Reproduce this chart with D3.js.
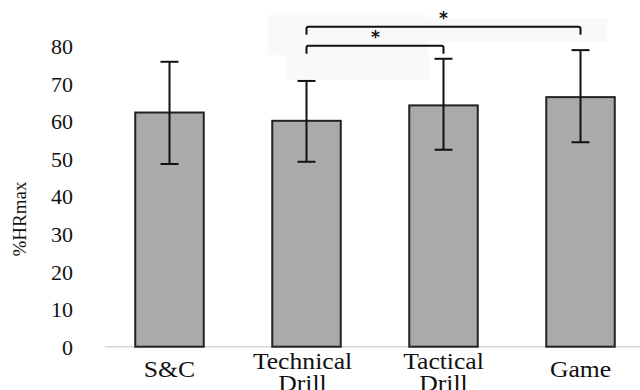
<!DOCTYPE html>
<html><head><meta charset="utf-8">
<script src="https://cdn.jsdelivr.net/npm/d3@7"></script>
<style>body{margin:0;background:#fff}svg{display:block}</style>
</head><body>
<script>
const categories = ["S&C", "Technical Drill", "Tactical Drill", "Game"];
const meanValues = [62.3, 60.1, 64.2, 66.4];
const sdUpper = [75.8, 70.7, 76.6, 78.9];
const sdLower = [48.6, 49.2, 52.4, 54.4];
const yTicks = [0, 10, 20, 30, 40, 50, 60, 70, 80];
const comparisons = [["Technical Drill", "Tactical Drill"], ["Technical Drill", "Game"]];
const yTitle = "%HRmax";

const SERIF = "'Liberation Serif', 'Times New Roman', serif";
const W = 640, H = 390;
const svg = d3.select("body").append("svg").attr("width", W).attr("height", H);

const x = d3.scaleBand().domain(categories).range([101, 649]).paddingInner(0.5).paddingOuter(0.25);
const y = d3.scaleLinear().domain([0, 80]).range([346.7, 46]);

// faint background artifacts behind brackets
const bg = svg.append("g").attr("fill", "#f9f9f9");
bg.append("rect").attr("x", 268).attr("y", 15).attr("width", 160).attr("height", 40);
bg.append("rect").attr("x", 287).attr("y", 55).attr("width", 143).attr("height", 25);
bg.append("rect").attr("x", 428).attr("y", 18).attr("width", 179).attr("height", 24);

// baseline
svg.append("line").attr("x1", 105).attr("x2", 640)
  .attr("y1", y(0)).attr("y2", y(0)).attr("stroke", "#d6d6d6").attr("stroke-width", 1.5);

// y axis tick labels
const yAxis = d3.axisLeft(y).tickValues(yTicks).tickSize(0).tickPadding(0);
const gy = svg.append("g").attr("transform", "translate(73,0)").call(yAxis);
gy.select(".domain").remove();
gy.attr("font-family", null).attr("font-size", null);
gy.selectAll("text").style("font-family", SERIF)
  .style("font-size", "22px").attr("fill", "#111").attr("dy", "0.34em");

// y title
svg.append("text").attr("transform", "translate(26,219) rotate(-90)")
  .attr("text-anchor", "middle").style("font-family", SERIF)
  .style("font-size", "19px").attr("fill", "#111").text(yTitle);

// bars
svg.append("g").selectAll("rect").data(categories).join("rect")
  .attr("x", d => x(d)).attr("width", x.bandwidth())
  .attr("y", (d, i) => y(meanValues[i])).attr("height", (d, i) => y(0) - y(meanValues[i]))
  .attr("fill", "#aaaaaa").attr("stroke", "#222").attr("stroke-width", 2);

// error bars
const eb = svg.append("g").attr("stroke", "#111").attr("stroke-width", 2);
categories.forEach((c, i) => {
  const cx = x(c) + x.bandwidth() / 2;
  eb.append("line").attr("x1", cx).attr("x2", cx).attr("y1", y(sdUpper[i])).attr("y2", y(sdLower[i]));
  eb.append("line").attr("x1", cx - 9).attr("x2", cx + 9).attr("y1", y(sdUpper[i])).attr("y2", y(sdUpper[i]));
  eb.append("line").attr("x1", cx - 9).attr("x2", cx + 9).attr("y1", y(sdLower[i])).attr("y2", y(sdLower[i]));
});

// significance brackets
const br = svg.append("g");
comparisons.forEach((pair, k) => {
  const x1 = x(pair[0]) + x.bandwidth() / 2;
  const x2 = x(pair[1]) + x.bandwidth() / 2;
  const top = 45.7 - k * 19;
  br.append("path")
    .attr("d", `M${x1},${top + 8} L${x1},${top + 2} Q${x1},${top} ${x1 + 2},${top} L${x2 - 2},${top} Q${x2},${top} ${x2},${top + 2} L${x2},${top + 8}`)
    .attr("fill", "none").attr("stroke", "#111").attr("stroke-width", 2);
  br.append("text").attr("x", (x1 + x2) / 2 + (k === 0 ? 0.5 : 0)).attr("y", top - 2.5)
    .attr("text-anchor", "middle").style("font-family", "'DejaVu Sans', sans-serif")
    .attr("font-weight", "bold").style("font-size", "17px").attr("fill", "#111").text("*");
});

// category labels
const xl = svg.append("g").attr("fill", "#111").attr("text-anchor", "middle");
categories.forEach((c, i) => {
  const cx = x(c) + x.bandwidth() / 2 - (i === 1 ? 4 : 0);
  const lines = c.split(" ");
  const t = xl.append("text").attr("transform", `translate(${cx},0) scale(1.14,1)`)
    .style("font-family", SERIF).style("font-size", "22.5px");
  if (lines.length === 1) {
    t.append("tspan").attr("x", 0).attr("y", 377).text(lines[0]);
  } else {
    lines.forEach((l, j) => t.append("tspan").attr("x", 0).attr("y", 369.5 + j * 21.5).text(l));
  }
});
</script>
</body></html>
